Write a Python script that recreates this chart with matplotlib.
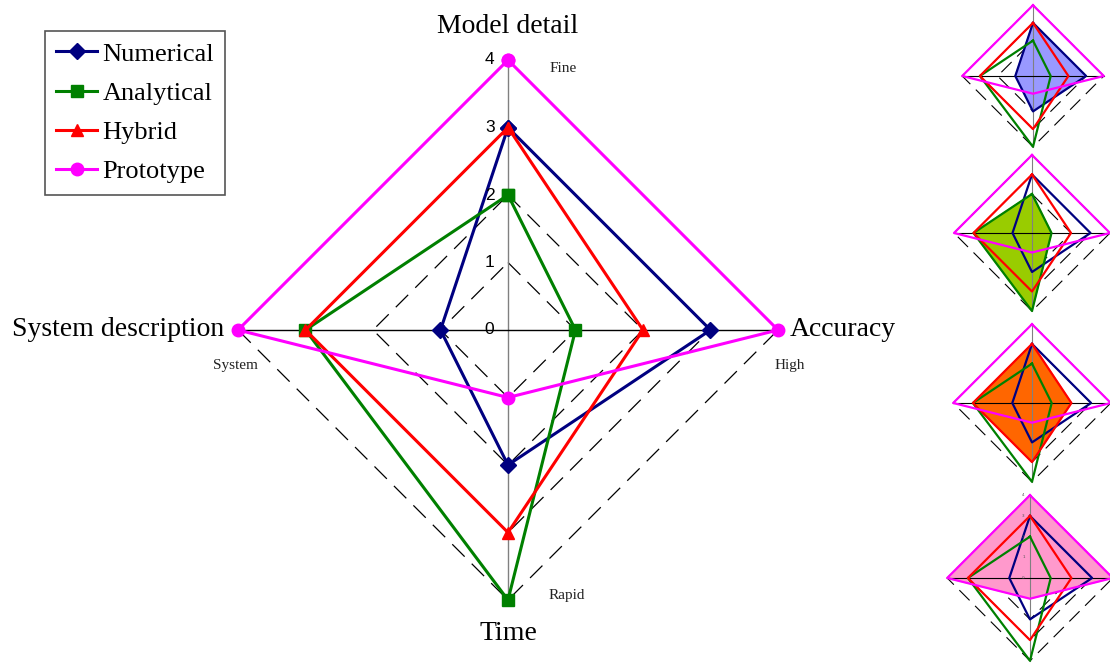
import matplotlib
matplotlib.use("Agg")
import matplotlib.pyplot as plt

# axes go clockwise from the top
axes_labels = ["Model detail", "Accuracy", "Time", "System description"]
end_labels = ["Fine", "High", "Rapid", "System"]
ticks = [0, 1, 2, 3, 4]

series = ["Numerical", "Analytical", "Hybrid", "Prototype"]
numerical = [3, 3, 2, 1]
analytical = [2, 1, 4, 3]
hybrid = [3, 2, 3, 3]
prototype = [4, 4, 1, 4]
values = [numerical, analytical, hybrid, prototype]

colors = ["#000080", "#008000", "#FF0000", "#FF00FF"]
fills = ["#9999FF", "#99CC00", "#FF6600", "#FF99CC"]
markers = ["D", "s", "^", "o"]

SERIF = ["Liberation Serif", "DejaVu Serif"]
W, H = 1110, 663


def to_xy(v):
    # top, right, bottom, left
    xs = [0, v[1], 0, -v[3], 0]
    ys = [v[0], 0, -v[2], 0, v[0]]
    return xs, ys


def make_ax(fig, cx, cy, scale, lim):
    half = scale * lim
    ax = fig.add_axes([(cx - half) / W, (H - cy - half) / H, 2 * half / W, 2 * half / H])
    ax.set_xlim(-lim, lim)
    ax.set_ylim(-lim, lim)
    ax.set_aspect("equal")
    ax.axis("off")
    return ax


def draw_grid(ax, lw, dash):
    for t in ticks[1:]:
        xs, ys = to_xy([t] * 4)
        ax.plot(xs, ys, color="black", lw=lw, ls=(0, dash), zorder=1)


def draw_spokes(ax, lw):
    top = ticks[-1]
    ax.plot([0, 0], [-top, top], color="#808080", lw=lw, zorder=3)
    ax.plot([-top, top], [0, 0], color="black", lw=lw, zorder=3)


fig = plt.figure(figsize=(W / 100, H / 100), dpi=100)

# main chart
ax = make_ax(fig, 508, 330, 67.5, 4.6)
draw_grid(ax, 0.9, (14, 8))
draw_spokes(ax, 1.0)
handles = []
for name, v, c, m in zip(series, values, colors, markers):
    xs, ys = to_xy(v)
    ms = 8 if m == "D" else 9
    h, = ax.plot(xs, ys, color=c, lw=2.2, marker=m, ms=ms, label=name, zorder=4,
                 clip_on=False)
    handles.append(h)

for t in ticks:
    ax.text(-0.2, t, str(t), ha="right", va="center", fontsize=12.5,
            family="Liberation Sans", zorder=5)

lab_kw = dict(fontsize=20, family=SERIF)
ax.text(0, 4.5, axes_labels[0], ha="center", va="center", **lab_kw)
ax.text(4.18, 0, axes_labels[1], ha="left", va="center", **lab_kw)
ax.text(0, -4.5, axes_labels[2], ha="center", va="center", **lab_kw)
ax.text(-4.2, 0, axes_labels[3], ha="right", va="center", **lab_kw)

small_kw = dict(fontsize=11, family=SERIF, color="#222222")
ax.text(0.82, 3.88, end_labels[0], ha="center", va="center", **small_kw)
ax.text(4.18, -0.52, end_labels[1], ha="center", va="center", **small_kw)
ax.text(0.87, -3.93, end_labels[2], ha="center", va="center", **small_kw)
ax.text(-4.04, -0.52, end_labels[3], ha="center", va="center", **small_kw)

leg = fig.legend(handles=handles, loc="upper left",
                 bbox_to_anchor=(45 / W, 1 - 31 / H),
                 prop={"family": SERIF, "size": 19}, fancybox=False,
                 edgecolor="#555555", framealpha=1, handlelength=1.55,
                 handletextpad=0.2, labelspacing=0.6, borderpad=0.42,
                 borderaxespad=0)
leg.get_frame().set_linewidth(1.2)

# thumbnails, one series highlighted in each
thumbs = [(1033, 76, 17.7), (1032, 233, 19.5), (1032, 403, 19.7), (1030, 578, 20.7)]
for k, (cx, cy, sc) in enumerate(thumbs):
    tax = make_ax(fig, cx, cy, sc, 4.15)
    draw_grid(tax, 0.8, (13, 7))
    xs, ys = to_xy(values[k])
    tax.fill(xs, ys, color=fills[k], zorder=2)
    draw_spokes(tax, 0.8)
    for v, c in zip(values, colors):
        xs, ys = to_xy(v)
        tax.plot(xs, ys, color=c, lw=1.6, zorder=4, clip_on=False)
    if k == 3:
        for t in ticks:
            tax.text(-0.25, t, str(t), ha="right", va="center", fontsize=3,
                     color="#555555", zorder=5)

fig.savefig("out.png", dpi=100)
